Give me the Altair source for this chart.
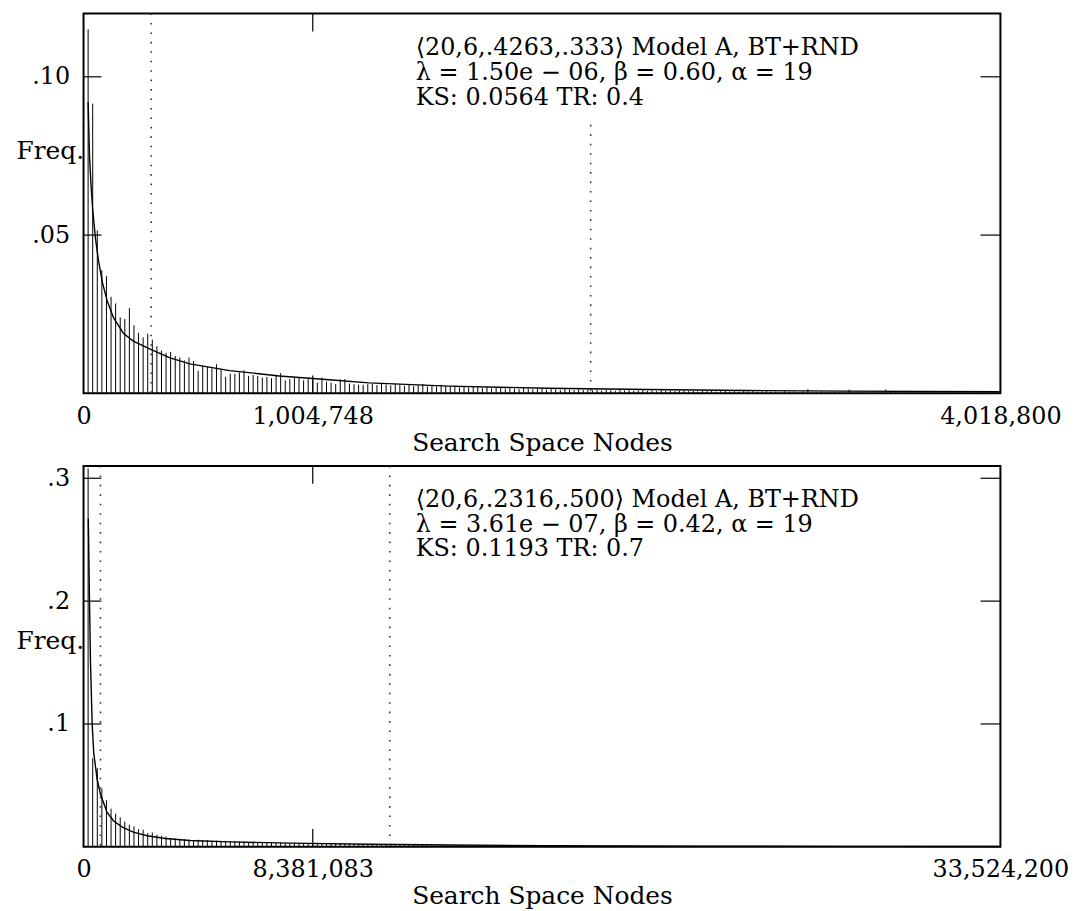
import altair as alt
import pandas as pd

# ---------------- data ----------------
top_xmax = 4018800
top_xtick = [0, 1004748, 4018800]
top_yticks = [0.05, 0.10]
top_freq = [
    .115, .0915, .0515, .0389, .0370, .0305, .0284, .0240, .0235, .0269,
    .0215, .0191, .0177, .0188, .0170, .0149, .0135, .0128, .0131, .0118,
    .0113, .0104, .0113, .0102, .0071, .0086, .0083, .0079, .0092, .0076,
    .0052, .0062, .0062, .0066, .0073, .0055, .0058, .0055, .0050, .0052,
    .0048, .0058, .0064, .0041, .0045, .0050, .0048, .0041, .0045, .0042,
    .0034, .0050, .0037, .0034, .0029, .0045, .0045, .0031, .0029, .0027,
    .0027, .0029, .0030, .0026, .0033, .0028, .0025, .0031, .0027, .0024,
    .0029, .0023, .0026, .0030, .0022, .0025, .0021, .0027, .0023, .0020,
    .0024, .0019, .0022, .0018, .0021, .0023, .0017, .0020, .0016, .0019,
    .0017, .0015, .0018, .0016, .0014, .0017, .0015, .0013, .0016, .0014,
    .0012, .0015, .0013, .0011, .0014, .0012, .0010, .0013, .0011, .0012,
    .0010, .0012, .0009, .0011, .0010, .0008, .0011, .0009, .0010, .0008,
    .0009, .0011, .0008, .0009, .0007, .0010, .0008, .0009, .0007, .0008,
    .0009, .0007, .0008, .0006, .0009, .0007, .0008, .0006, .0007, .0008,
    .0006, .0007, .0005, .0008, .0006, .0007, .0005, .0006, .0007, .0005,
    .0006, .0005, .0007, .0005, .0006, .0004, .0006, .0013, .0005, .0004,
    .0006, .0004, .0005, .0006, .0004, .0005, .0012, .0004, .0005, .0003,
    .0005, .0004, .0003, .0005, .0012, .0004, .0003, .0004, .0005, .0003,
    .0004, .0003, .0004, .0002, .0004, .0003, .0004, .0002, .0003, .0004,
    .0002, .0003, .0004, .0002, .0003, .0002, .0003, .0002, .0003, .0002,
]
top_curve_x = [20050, 26150, 32690, 40100, 52300, 65380, 82820, 104610, 130760,
               174350, 217940, 292030, 379200, 466380, 640730, 858660, 1076600,
               1250950, 1599640, 2035510, 2471380, 2907250, 3343120, 4018800]
top_curve_y = [.092, .075, .066, .058, .049, .042, .035, .029, .024,
               .019, .0165, .0140, .0112, .0093, .0072, .0055, .0043,
               .0033, .0023, .0016, .0012, .0009, .0007, .0005]
top_markers = [296400, 2222900]
top_ann = ["⟨20,6,.4263,.333⟩ Model A, BT+RND",
           "λ = 1.50e − 06, β = 0.60, α = 19",
           "KS: 0.0564 TR: 0.4"]

bot_xmax = 33524200
bot_xtick = [0, 8381083, 33524200]
bot_yticks = [0.1, 0.2, 0.3]
bot_freq = [
    .308, .072, .064, .0476, .038, .031, .027, .024, .0206, .018,
    .0166, .0144, .0139, .0112, .0117, .0098, .0090, .0085, .0071, .0069,
    .0063, .0060, .0058, .0055,
    .0058, .0052, .0055, .0049, .0051, .0046, .0048, .0044, .0046, .0041,
    .0043, .0039, .0041, .0037, .0040, .0035, .0038, .0034, .0036, .0033,
    .0031, .0034, .0029, .0032, .0028, .0030, .0027, .0029, .0025, .0027,
    .0024, .0026, .0023, .0025, .0022, .0021, .0023, .0020, .0022, .0019,
    .0021, .0018, .0020, .0017, .0019, .0016, .0018, .0015, .0017, .0015,
    .0014, .0016, .0013, .0015, .0012, .0014, .0012, .0013, .0011, .0013,
    .0011, .0012, .0010, .0012, .0010, .0011, .0009, .0011, .0009, .0010,
    .0009, .0010, .0008, .0009, .0008, .0009, .0007, .0009, .0007, .0008,
    .0007, .0008, .0006, .0008, .0006, .0007, .0006, .0007, .0005, .0007,
    .0005, .0006, .0005, .0006, .0005, .0005, .0004, .0006, .0004, .0005,
    .0004, .0005, .0004, .0004, .0003, .0005, .0004, .0003, .0004, .0003,
    .0004, .0003, .0003, .0004, .0002, .0003, .0002, .0003, .0002, .0002,
    .0003, .0002, .0003, .0002, .0002, .0003, .0002, .0002, .0001, .0002,
    .0002, .0001, .0002, .0002, .0001, .0002, .0001, .0001, .0002, .0001,
    .0001, .0002, .0001, .0001, .0001, .0002, .0001, .0001, .0001, .0001,
    .0002, .0001, .0001, .0001, .0001, .0001, .0001, .0002, .0001, .0001,
    .0001, .0001, .0001, .0001, .0001, .0001, .0001, .0001, .0001, .0001,
    .0001, .0001, .0001, .0001, .0001, .0001,
]
bot_curve_x = [174500, 218200, 254500, 316300, 374500, 498100, 618100, 861700,
               1101700, 1418000, 1818000, 2327000, 2981500, 3890500, 5345000,
               7526500, 10435000, 13344000, 16980000, 22434000, 27888000, 33524200]
bot_curve_y = [.267, .20, .15, .10, .076, .055, .043, .028,
               .021, .016, .012, .0090, .0068, .0052, .0040,
               .0030, .0021, .0015, .0010, .0006, .0004, .0003]
bot_markers = [618100, 11199000]
bot_ann = ["⟨20,6,.2316,.500⟩ Model A, BT+RND",
           "λ = 3.61e − 07, β = 0.42, α = 19",
           "KS: 0.1193 TR: 0.7"]

FONT = "DejaVu Serif"
W = 922


def panel(freq, xmax, xticks, yticks, ymax, yfmt, cx, cy, markers, marker_tops,
          ann, ann_y, freq_y, H):
    nb = len(freq)
    step = xmax / nb
    df = pd.DataFrame({"x": [(i + 1) * step for i in range(nb)], "v": freq})
    xs = alt.Scale(domain=[0, xmax], nice=False, zero=True)
    ys = alt.Scale(domain=[0, ymax], nice=False, zero=True)
    xaxis = alt.Axis(
        values=xticks, labelExpr="format(datum.value, ',')",
        title="Search Space Nodes", titleY=57, titleBaseline="alphabetic",
        labelPadding=11, labelFlush=False, labelOverlap=False, labelBound=False)
    yaxis = alt.Axis(
        values=yticks,
        labelExpr="replace(format(datum.value, '%s'), '0.', '.')" % yfmt,
        title="Freq.", titleAngle=0, titleX=-68, titleY=freq_y,
        titleAlign="left", titleBaseline="middle", labelPadding=14)

    def X(f):
        return alt.X(f, scale=xs, axis=xaxis)

    def Y(f):
        return alt.Y(f, scale=ys, axis=yaxis)

    impulses = alt.Chart(df).mark_rule(color="black", strokeWidth=1).encode(
        x=X("x:Q"), y=Y("v:Q"), y2=alt.datum(0))
    cdf = pd.DataFrame({"x": cx, "v": cy})
    curve = alt.Chart(cdf).mark_line(color="black", strokeWidth=1.4).encode(
        x=X("x:Q"), y=Y("v:Q"))
    layers = [impulses, curve]
    for m, t in zip(markers, marker_tops):
        layers.append(
            alt.Chart(pd.DataFrame({"x": [m]})).mark_rule(
                color="#333", strokeWidth=1.6, strokeDash=[1.6, 7.9]).encode(
                x=X("x:Q"), y=alt.value(t), y2=alt.value(H)))
    ytd = pd.DataFrame({"v": yticks})
    layers.append(alt.Chart(ytd).mark_rule(color="black", strokeWidth=1.2).encode(
        y=Y("v:Q"), x=alt.value(0), x2=alt.value(18)))
    layers.append(alt.Chart(ytd).mark_rule(color="black", strokeWidth=1.2).encode(
        y=Y("v:Q"), x=alt.value(W - 20), x2=alt.value(W)))
    xtd = pd.DataFrame({"x": [xticks[1]]})
    layers.append(alt.Chart(xtd).mark_rule(color="black", strokeWidth=1.2).encode(
        x=X("x:Q"), y=alt.value(0), y2=alt.value(18)))
    layers.append(alt.Chart(xtd).mark_rule(color="black", strokeWidth=1.2).encode(
        x=X("x:Q"), y=alt.value(H - 18), y2=alt.value(H)))
    # annotation block: one multi-line text
    layers.append(alt.Chart(pd.DataFrame({"k": [0]})).mark_text(
        align="left", baseline="top", font=FONT, fontSize=24, lineHeight=25,
        color="black", text=ann).encode(
        x=alt.value(334), y=alt.value(ann_y)))
    return alt.layer(*layers).properties(width=W, height=H)


top = panel(top_freq, top_xmax, top_xtick, top_yticks, 0.12, ".2f",
            top_curve_x, top_curve_y, top_markers, [0, 112], top_ann, 23, 138, 382)
bot = panel(bot_freq, bot_xmax, bot_xtick, bot_yticks, 0.31, ".1f",
            bot_curve_x, bot_curve_y, bot_markers, [0, 0], bot_ann, 22, 176, 383)

chart = alt.vconcat(top, bot, spacing=8).properties(
    padding={"left": 15, "top": 9, "right": 5, "bottom": 5},
    background="white",
).configure_view(stroke="black", strokeWidth=2).configure_axis(
    labelFont=FONT, titleFont=FONT, labelFontSize=24, titleFontSize=25,
    labelColor="black", titleColor="black", titleFontWeight="normal",
    grid=False, domain=False, ticks=False, tickSize=0,
)

chart.save("out.html", embed_options={"renderer": "svg", "actions": False})
